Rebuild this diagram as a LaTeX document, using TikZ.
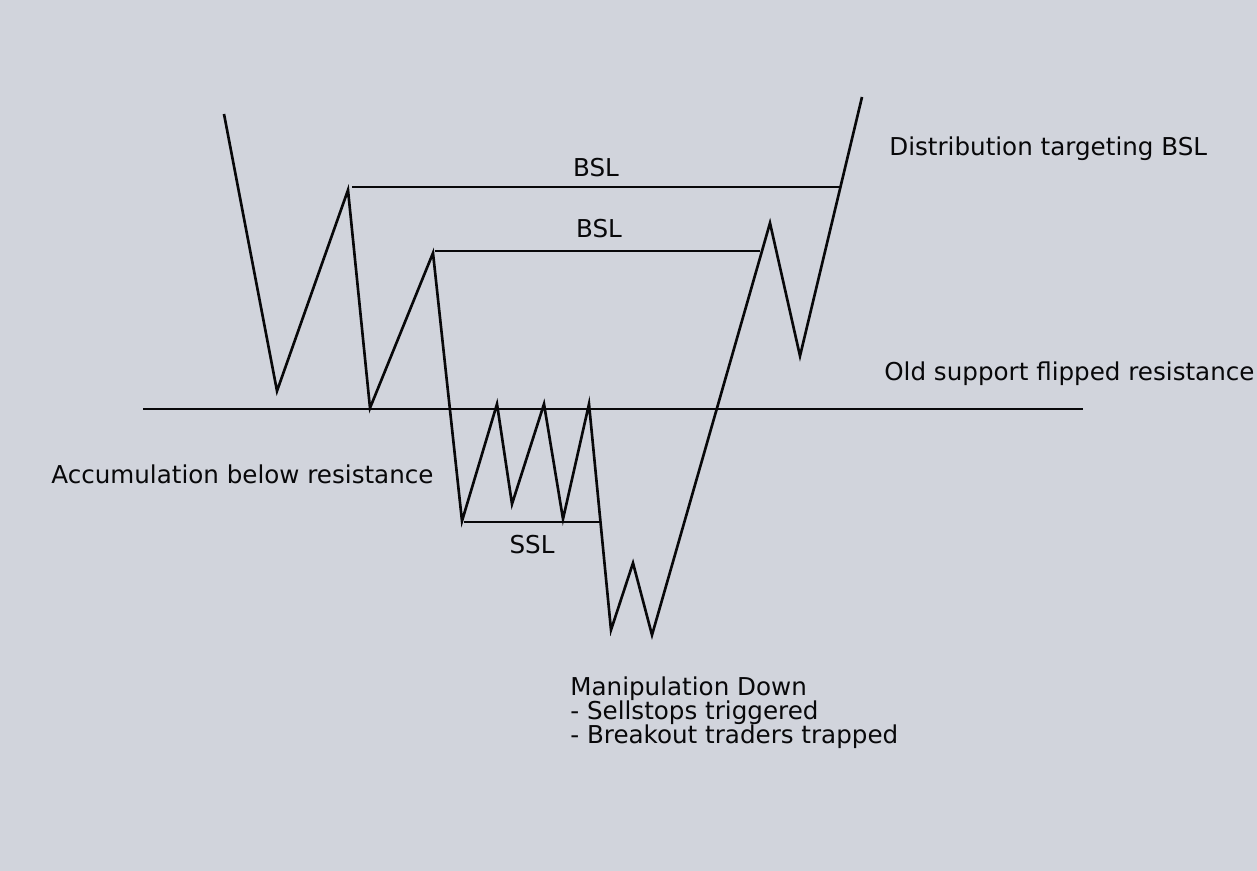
\documentclass[tikz,border=0pt]{standalone}
\usepackage{fontspec}
\setmainfont{DejaVu Sans}
\definecolor{chartbg}{RGB}{209,212,220}
\definecolor{ink}{RGB}{8,8,10}

\begin{document}
\begin{tikzpicture}[x=0.02cm,y=-0.02cm,
    price/.style={line width=1.5pt, draw=ink},
    level/.style={line width=1.4pt, draw=ink},
    lbl/.style={font=\fontsize{14}{13.9}\selectfont, text=ink, inner sep=0pt}]

    % Background and page size
    \fill[chartbg] (0,0) rectangle (1257,871);
    \useasboundingbox (0,0) rectangle (1257,871);

    % Old support flipped resistance
    \draw[level] (143,409) -- (1083,409);

    % Liquidity levels
    \draw[level] (352,187) -- (840,187); % upper BSL
    \draw[level] (435,251) -- (760,251); % lower BSL
    \draw[level] (464,522) -- (599,522); % SSL

    % Price path
    \draw[price] (224,114) -- (277,391) -- (348,190) -- (370,408) -- (433,253)
        -- (462,521) -- (497,404) -- (512,504) -- (544,404) -- (563,519)
        -- (589,404) -- (611,630) -- (633,563) -- (652,635) -- (770,223)
        -- (800,356) -- (862,97);

    % Level labels
    \foreach \x/\y/\name/\txt in {596/177/bslA/BSL, 599/238/bslB/BSL, 532/553/ssl/SSL}
        \node[lbl, anchor=base] (\name) at (\x,\y) {\txt};

    % Phase notes
    \node[lbl, anchor=base west] (distrib) at (889,156) {Distribution targeting BSL};
    \node[lbl, anchor=base west] (oldsup) at (884,380) {Old support flipped resistance};
    \node[lbl, anchor=base west] (accum) at (51,483) {Accumulation below resistance};
    \node[lbl, anchor=north west, align=left] (manip) at (570,676)
        {Manipulation Down\\- Sellstops triggered\\- Breakout traders trapped};

\end{tikzpicture}
\end{document}
